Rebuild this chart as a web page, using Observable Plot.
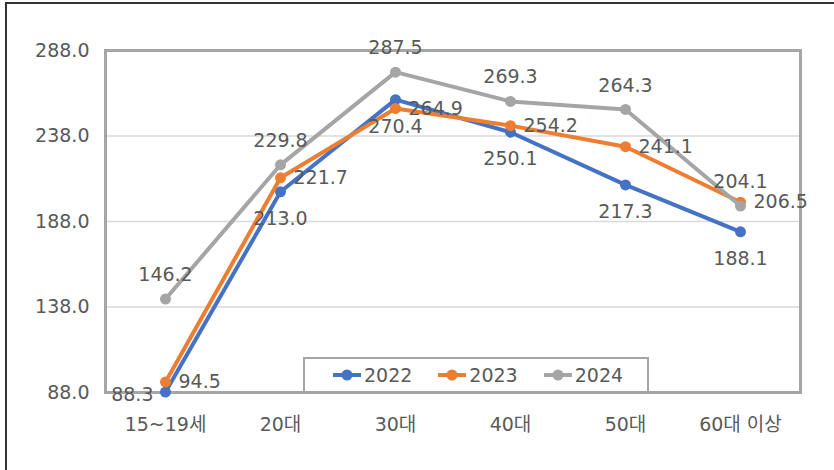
<!DOCTYPE html>
<html>
<head>
<meta charset="utf-8">
<script src="https://cdn.jsdelivr.net/npm/d3@7"></script>
<script src="https://cdn.jsdelivr.net/npm/@observablehq/plot@0.6"></script>
<style>
  html, body { margin: 0; padding: 0; background: #fff; }
  #wrap { position: relative; width: 834px; height: 470px; overflow: hidden;
          font-family: "DejaVu Sans", "Noto Sans CJK KR", sans-serif; }
  #outer { position: absolute; left: 5px; top: 2px; right: -10px; bottom: -10px;
           border-left: 2px solid #333; border-top: 2px solid #333; pointer-events: none; }
  #legend { position: absolute; left: 303px; top: 357px; width: 346px; height: 36px;
            border: 2px solid #a6a6a6; background: #fff; display: flex; align-items: center;
            padding-left: 27px; box-sizing: border-box; }
  .item { display: flex; align-items: center; margin-right: 25px; color: #595959; font-size: 19px; }
  .item svg { margin-right: 2px; }
</style>
</head>
<body>
<div id="wrap">
  <div id="chart"></div>
  <div id="legend"></div>
  <div id="outer"></div>
</div>
<script>
const categories = ["15~19세", "20대", "30대", "40대", "50대", "60대 이상"];
const series = ["2022", "2023", "2024"];
const values2022 = [88.3, 213.0, 270.4, 250.1, 217.3, 188.1];
const values2023 = [94.5, 221.7, 264.9, 254.2, 241.1, 206.5];
const values2024 = [146.2, 229.8, 287.5, 269.3, 264.3, 204.1];
const colors = ["#4472C4", "#ED7D31", "#A5A5A5"];
const yTickLabels = ["88.0", "138.0", "188.0", "238.0", "288.0"];
const yMin = 88, yMax = 301;

const seriesValues = [values2022, values2023, values2024];
const data = [];
series.forEach((s, si) => categories.forEach((c, ci) => data.push({series: s, cat: c, value: seriesValues[si][ci]})));
const yTicks = d3.range(yTickLabels.length).map(i => yMin + i * (yMax - yMin) / (yTickLabels.length - 1));
const fmt = d3.format(".1f");
const textColor = "#595959";
const fs = 19;

const bySeries = s => data.filter(d => d.series === s);
const marks = [
  Plot.gridY(yTicks, {stroke: "#d9d9d9", strokeOpacity: 1, strokeWidth: 1.3}),
  Plot.frame({stroke: "#a6a6a6", strokeWidth: 3}),
  Plot.axisY(yTicks, {tickSize: 0, tickPadding: 16, fontSize: fs, fill: textColor, label: null,
    tickFormat: d => yTickLabels[yTicks.indexOf(d)]}),
  Plot.axisX({tickSize: 0, tickPadding: 25, fontSize: fs, fill: textColor, label: null})
];
series.forEach((s, si) => {
  marks.push(Plot.line(bySeries(s), {x: "cat", y: "value", stroke: colors[si], strokeWidth: 4}));
  marks.push(Plot.dot(bySeries(s), {x: "cat", y: "value", fill: colors[si], r: 5.5}));
});
// data labels: 2022 below, 2023 right, 2024 above
marks.push(Plot.text(bySeries("2022").filter(d => d.cat !== categories[0]),
  {x: "cat", y: "value", text: d => fmt(d.value), dy: 27, fill: textColor, fontSize: fs}));
marks.push(Plot.text(bySeries("2022").filter(d => d.cat === categories[0]),
  {x: "cat", y: "value", text: d => fmt(d.value), dx: -12, dy: 3, textAnchor: "end", fill: textColor, fontSize: fs}));
marks.push(Plot.text(bySeries("2023"),
  {x: "cat", y: "value", text: d => fmt(d.value), dx: 13, textAnchor: "start", fill: textColor, fontSize: fs}));
marks.push(Plot.text(bySeries("2024"),
  {x: "cat", y: "value", text: d => fmt(d.value), dy: -24, fill: textColor, fontSize: fs}));

const chart = Plot.plot({
  width: 834,
  height: 470,
  marginLeft: 105,
  marginRight: 34,
  marginTop: 50,
  marginBottom: 78,
  style: {fontFamily: '"DejaVu Sans", "Noto Sans CJK KR", sans-serif', fontSize: fs + "px", color: textColor, background: "transparent"},
  x: {type: "point", domain: categories, padding: 0.5, label: null},
  y: {domain: [yMin, yMax], label: null},
  marks
});
document.getElementById("chart").appendChild(chart);

const legend = d3.select("#legend");
series.forEach((s, si) => {
  const item = legend.append("div").attr("class", "item");
  const svg = item.append("svg").attr("width", 30).attr("height", 14);
  svg.append("line").attr("x1", 1).attr("x2", 29).attr("y1", 7).attr("y2", 7)
    .attr("stroke", colors[si]).attr("stroke-width", 4);
  svg.append("circle").attr("cx", 15).attr("cy", 7).attr("r", 5.5).attr("fill", colors[si]);
  item.append("span").text(s);
});
</script>
</body>
</html>
